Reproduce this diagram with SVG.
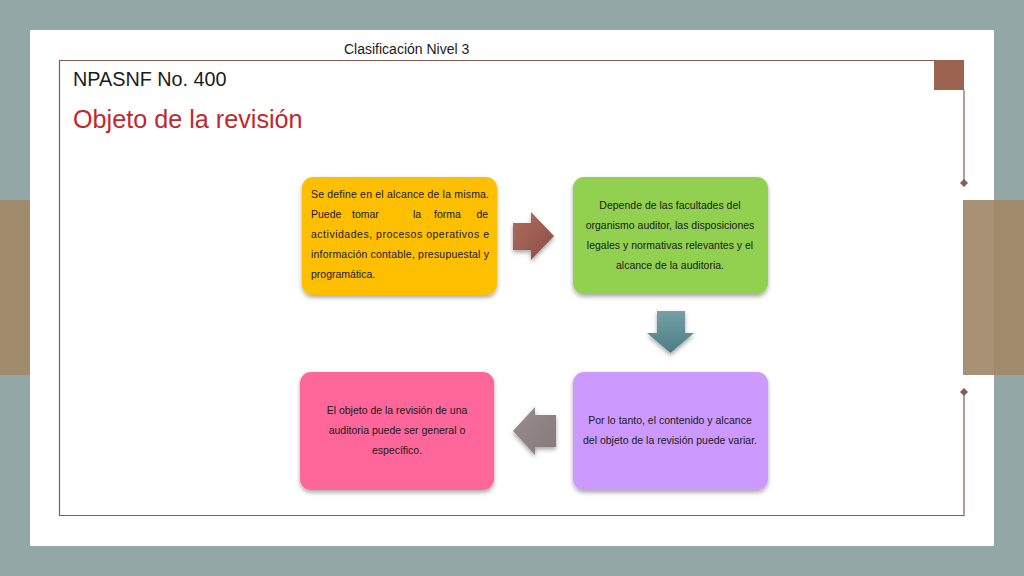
<svg xmlns="http://www.w3.org/2000/svg" width="1024" height="576" viewBox="0 0 1024 576">
<style>
.t{font-family:"Liberation Sans",Arial,sans-serif;fill:#1a1a1a}
.b{font-size:10.5px}
.c{text-anchor:middle}
.frame{fill:none;stroke:#8A5A50;stroke-width:1.2}
</style>
<defs>
<filter id="sh" x="-10%" y="-10%" width="125%" height="130%">
<feDropShadow dx="0" dy="2.5" stdDeviation="2" flood-color="#000" flood-opacity="0.35"/>
</filter>
<linearGradient id="gBrown" x1="0" y1="0" x2="1" y2="1">
<stop offset="0" stop-color="#B06E5F"/><stop offset="1" stop-color="#8A4D43"/>
</linearGradient>
<linearGradient id="gTeal" x1="0" y1="0" x2="0" y2="1">
<stop offset="0" stop-color="#74A0A6"/><stop offset="1" stop-color="#4E7D85"/>
</linearGradient>
<linearGradient id="gGray" x1="0" y1="0" x2="1" y2="1">
<stop offset="0" stop-color="#9A8D8E"/><stop offset="1" stop-color="#85797A"/>
</linearGradient>
</defs>
<g id="background">
<rect x="0" y="0" width="1024" height="576" fill="#93A8A6"/>
<rect x="0" y="200" width="30" height="175" fill="#A08B6C"/>
<rect x="963" y="200" width="61" height="175" fill="#A08B6C"/>
<rect x="30" y="30" width="964" height="516" fill="#FFFFFF"/>
<rect x="963" y="200" width="31" height="175" fill="#A89275"/>
<path class="frame" d="M964 90 V183 M964 392 V515.5 H59.5 V60.5 H964"/>
<rect x="934" y="60" width="30" height="30" fill="#9C6351"/>
<path d="M964 179 L968 183 L964 187 L960 183 Z" fill="#8A5A50"/>
<path d="M964 388 L968 392 L964 396 L960 392 Z" fill="#8A5A50"/>
</g>
<g id="titles">
<text class="t" x="344" y="54" font-size="14">Clasificación Nivel 3</text>
<text class="t" x="73" y="86" font-size="19.8">NPASNF No. 400</text>
<text class="t" x="73" y="128" font-size="25.2" style="fill:#C0282D">Objeto de la revisión</text>
</g>
<g id="connectors">
<path d="M513 223 H531 V212 L554 236 L531 260 V250 H513 Z" fill="url(#gBrown)" filter="url(#sh)"/>
<path d="M657 311 H685 V333 H694 L670.5 353 L647 333 H657 Z" fill="url(#gTeal)" filter="url(#sh)"/>
<path d="M556 415 H535 V407 L513 431 L535 455 V447 H556 Z" fill="url(#gGray)" filter="url(#sh)"/>
</g>
<g id="node1">
<rect x="302" y="177" width="195" height="118" rx="11" fill="#FDBF00" filter="url(#sh)"/>
<text class="t b" x="311" y="198" textLength="178" lengthAdjust="spacing">Se define en el alcance de la misma.</text>
<text class="t b" y="218"><tspan x="311">Puede</tspan><tspan x="352">tomar</tspan><tspan x="413">la</tspan><tspan x="434">forma</tspan><tspan x="476.5">de</tspan></text>
<text class="t b" x="311" y="238" textLength="178" lengthAdjust="spacing">actividades, procesos operativos e</text>
<text class="t b" x="311" y="258" textLength="178" lengthAdjust="spacing">información contable, presupuestal y</text>
<text class="t b" x="311" y="278">programática.</text>
</g>
<g id="node2">
<rect x="573" y="177" width="195" height="117" rx="11" fill="#92D050" filter="url(#sh)"/>
<text class="t b c" x="670" y="209">Depende de las facultades del</text>
<text class="t b c" x="670" y="229">organismo auditor, las disposiciones</text>
<text class="t b c" x="670" y="249">legales y normativas relevantes y el</text>
<text class="t b c" x="670" y="269">alcance de la auditoria.</text>
</g>
<g id="node3">
<rect x="573" y="372" width="195" height="118" rx="11" fill="#CC99FF" filter="url(#sh)"/>
<text class="t b c" x="670" y="424">Por lo tanto, el contenido y alcance</text>
<text class="t b c" x="670" y="444">del objeto de la revisión puede variar.</text>
</g>
<g id="node4">
<rect x="300" y="372" width="194" height="118" rx="11" fill="#FF6699" filter="url(#sh)"/>
<text class="t b c" x="397" y="414">El objeto de la revisión de una</text>
<text class="t b c" x="397" y="434">auditoria puede ser general o</text>
<text class="t b c" x="397" y="454">específico.</text>
</g>
</svg>
